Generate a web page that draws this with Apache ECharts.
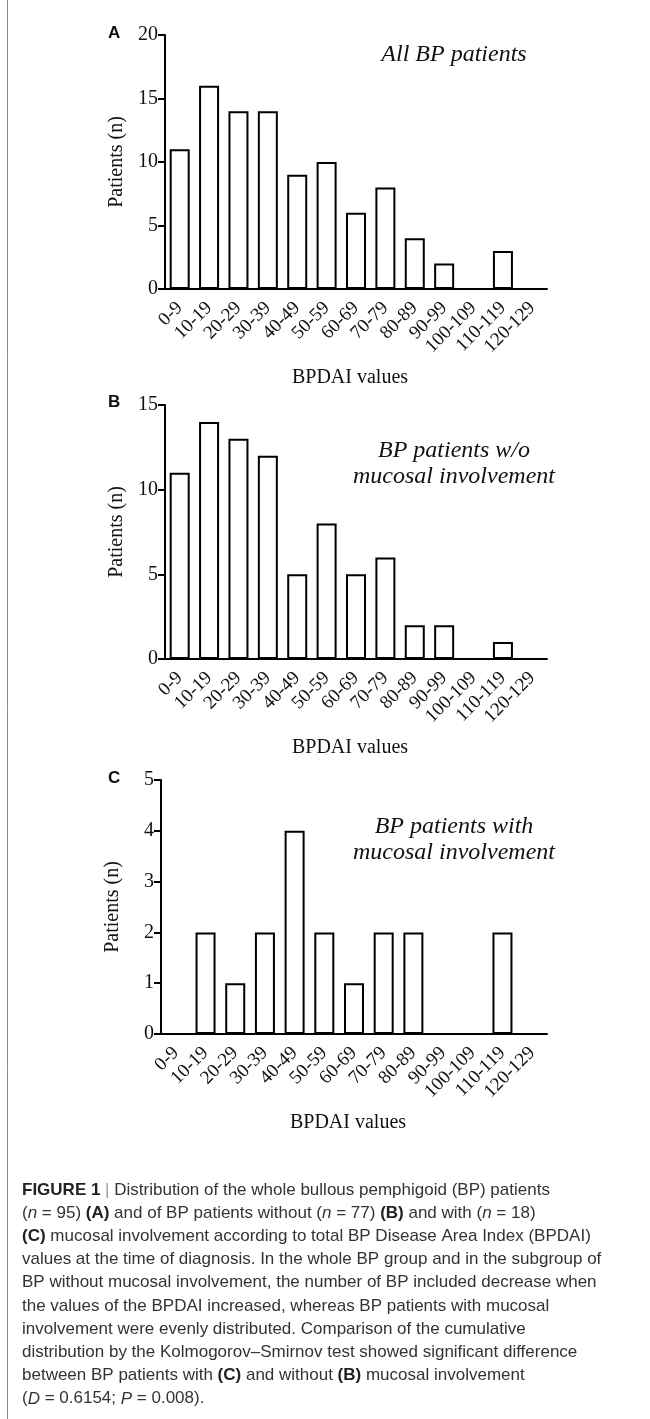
<!DOCTYPE html>
<html>
<head>
<meta charset="utf-8">
<script src="https://cdn.jsdelivr.net/npm/echarts@6/dist/echarts.min.js"></script>
<style>
html,body{margin:0;padding:0;background:#fff;}
#c{width:650px;height:1419px;}
</style>
</head>
<body>
<div id="c"></div>
<script>
const categories = ['0-9','10-19','20-29','30-39','40-49','50-59','60-69','70-79','80-89','90-99','100-109','110-119','120-129'];
const allBP = [11,16,14,14,9,10,6,8,4,2,0,3,0];
const withoutMucosal = [11,14,13,12,5,8,5,6,2,2,0,1,0];
const withMucosal = [0,2,1,2,4,2,1,2,2,0,0,2,0];
const yMaxes = [20,15,5];
const yIntervals = [5,5,1];
const panelLetters = ['A','B','C'];
const panelNotes = [['All BP patients'],['BP patients w/o','mucosal involvement'],['BP patients with','mucosal involvement']];
const captionLines = [
  '{b|FIGURE 1} {g||} Distribution of the whole bullous pemphigoid (BP) patients',
  '({i|n} = 95) {b|(A)} and of BP patients without ({i|n} = 77) {b|(B)} and with ({i|n} = 18)',
  '{b|(C)} mucosal involvement according to total BP Disease Area Index (BPDAI)',
  'values at the time of diagnosis. In the whole BP group and in the subgroup of',
  'BP without mucosal involvement, the number of BP included decrease when',
  'the values of the BPDAI increased, whereas BP patients with mucosal',
  'involvement were evenly distributed. Comparison of the cumulative',
  'distribution by the Kolmogorov\u2013Smirnov test showed significant difference',
  'between BP patients with {b|(C)} and without {b|(B)} mucosal involvement',
  '({i|D} = 0.6154; {i|P} = 0.008).'
];

const serif = "'Liberation Serif','Times New Roman',serif";
const sans = "'Liberation Sans',Arial,Helvetica,sans-serif";
const grids = [
  {left:165, right:103, top:35, height:254},
  {left:165, right:103, top:405, height:254},
  {left:161, right:103, top:780, height:254}
];
const seriesData = [allBP, withoutMucosal, withMucosal];

const chart = echarts.init(document.getElementById('c'), null, {renderer:'canvas'});

const xAxes = grids.map((g,i)=>({
  type:'category', gridIndex:i, data:categories,
  axisLine:{lineStyle:{color:'#000',width:2}},
  axisTick:{alignWithLabel:true,length:7,lineStyle:{color:'#000',width:2}},
  axisLabel:{rotate:45,margin:16,color:'#111',fontFamily:serif,fontSize:19,interval:0},
  name:'BPDAI values', nameLocation:'middle', nameGap:79,
  nameTextStyle:{color:'#111',fontFamily:serif,fontSize:20,padding:[0,12,0,0]}
}));
const yAxes = grids.map((g,i)=>({
  type:'value', gridIndex:i, min:0, max:yMaxes[i], interval:yIntervals[i],
  axisLine:{show:true,lineStyle:{color:'#000',width:2}},
  axisTick:{show:true,length:7,lineStyle:{color:'#000',width:2}},
  splitLine:{show:false},
  axisLabel:{color:'#111',fontFamily:serif,fontSize:20,margin:7},
  name:'Patients (n)', nameLocation:'middle', nameRotate:90, nameGap:38,
  nameTextStyle:{color:'#111',fontFamily:serif,fontSize:20}
}));
const series = seriesData.map((d,i)=>({
  type:'bar', xAxisIndex:i, yAxisIndex:i, data:d, barWidth:20,
  itemStyle:{color:'#fff',borderColor:'#000',borderWidth:2},
  silent:true
}));

const graphic = [];
graphic.push({type:'line',shape:{x1:7.5,y1:0,x2:7.5,y2:1419},style:{stroke:'#8a8a8a',lineWidth:1}});
const letterY = [33,402,778];
panelLetters.forEach((L,i)=>{
  graphic.push({type:'text',x:108,y:letterY[i],style:{text:L,font:"bold 17px "+sans,fill:'#111',textVerticalAlign:'middle'}});
});
const noteY = [[55],[451,477],[827,853]];
panelNotes.forEach((lines,i)=>{
  lines.forEach((t,j)=>{
    graphic.push({type:'text',x:454,y:noteY[i][j],style:{text:t,font:"italic 24px "+serif,fill:'#111',textAlign:'center',textVerticalAlign:'middle'}});
  });
});
const capFont = 17;
captionLines.forEach((t,k)=>{
  graphic.push({type:'text',x:22,y:1190+23.2*k,style:{
    text:t, fontFamily:sans, fontSize:capFont, fill:'#333', textVerticalAlign:'middle',
    rich:{
      b:{fontFamily:sans,fontSize:capFont,fontWeight:'bold',fill:'#222',color:'#222'},
      i:{fontFamily:sans,fontSize:capFont,fontStyle:'italic',fill:'#333',color:'#333'},
      g:{fontFamily:sans,fontSize:capFont,fill:'#999',color:'#999'}
    }
  }});
});

chart.setOption({
  animation:false,
  grid:grids,
  xAxis:xAxes,
  yAxis:yAxes,
  series:series,
  graphic:graphic
});
</script>
</body>
</html>
